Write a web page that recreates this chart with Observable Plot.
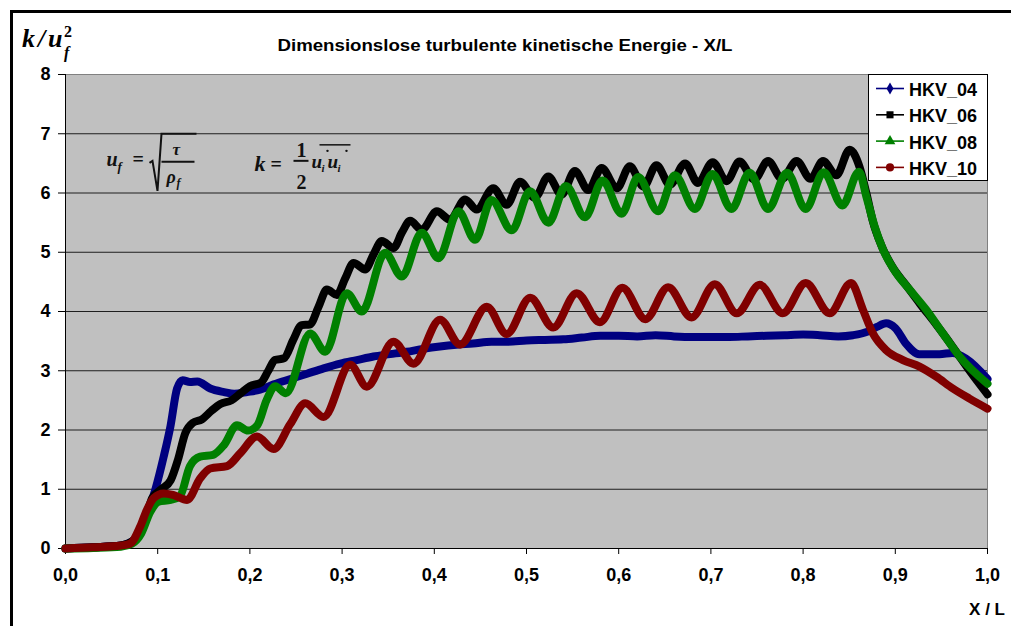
<!DOCTYPE html>
<html>
<head>
<meta charset="utf-8">
<script src="https://cdn.jsdelivr.net/npm/d3@7"></script>
<script src="https://cdn.jsdelivr.net/npm/@observablehq/plot@0.6"></script>
<style>
  html, body { margin: 0; padding: 0; background: #fff; overflow: hidden; }
  #wrap { position: relative; width: 1011px; height: 626px; overflow: hidden; background: #fff; }
  #frame { position: absolute; left: 10px; top: 10px; width: 1100px; height: 700px;
           border-left: 3px solid #000; border-top: 3px solid #000; box-sizing: border-box; }
  #wrap svg { position: absolute; left: 0; top: 0; }
</style>
</head>
<body>
<div id="wrap"><div id="frame"></div></div>
<script>
// Series, colours and legend symbols
const seriesNames = ["HKV_04", "HKV_06", "HKV_08", "HKV_10"];
const seriesColors = ["#000080", "#000000", "#008000", "#800000"];
const seriesSymbols = ["diamond", "square", "triangle", "circle"];

// Axis ticks
const xTicks = [0, 0.1, 0.2, 0.3, 0.4, 0.5, 0.6, 0.7, 0.8, 0.9, 1.0];
const yTicks = [0, 1, 2, 3, 4, 5, 6, 7, 8];

// HKV_04
const hkv04X = [0.000, 0.030, 0.060, 0.075, 0.085, 0.0975, 0.1065, 0.1138, 0.121, 0.127, 0.135, 0.143,
  0.157, 0.172, 0.183, 0.197, 0.211, 0.226, 0.244, 0.262, 0.280, 0.298, 0.316, 0.334, 0.352, 0.370,
  0.388, 0.406, 0.424, 0.442, 0.462, 0.480, 0.500, 0.520, 0.540, 0.560, 0.580, 0.600, 0.620, 0.640,
  0.660, 0.680, 0.700, 0.720, 0.740, 0.760, 0.780, 0.800, 0.818, 0.838, 0.854, 0.870, 0.880, 0.890,
  0.900, 0.912, 0.926, 0.948, 0.962, 0.977, 1.000];
const hkv04Y = [0.00, 0.02, 0.05, 0.15, 0.45, 1.00, 1.55, 2.06, 2.70, 2.84, 2.81, 2.82,
  2.70, 2.64, 2.61, 2.64, 2.68, 2.77, 2.86, 2.95, 3.04, 3.12, 3.18, 3.24, 3.28, 3.32,
  3.37, 3.41, 3.44, 3.46, 3.49, 3.49, 3.51, 3.52, 3.53, 3.56, 3.59, 3.59, 3.58, 3.60,
  3.58, 3.57, 3.57, 3.57, 3.58, 3.59, 3.60, 3.61, 3.60, 3.58, 3.60, 3.66, 3.74, 3.80,
  3.72, 3.45, 3.28, 3.28, 3.30, 3.20, 2.86];

// HKV_06
const hkv06X = [0.000, 0.030, 0.060, 0.075, 0.085, 0.094, 0.104, 0.114, 0.122, 0.130, 0.138, 0.148,
  0.158, 0.168, 0.180, 0.190, 0.200, 0.212, 0.220, 0.227, 0.237, 0.247, 0.256, 0.265, 0.2745, 0.2835,
  0.2943, 0.3034, 0.3124, 0.325, 0.334, 0.3431, 0.3557, 0.3648, 0.3738, 0.3864, 0.4027, 0.4171, 0.4334,
  0.446, 0.464, 0.4785, 0.493, 0.509, 0.5237, 0.538, 0.5525, 0.567, 0.5815, 0.598, 0.612, 0.627, 0.641,
  0.6555, 0.672, 0.686, 0.702, 0.717, 0.731, 0.747, 0.762, 0.777, 0.793, 0.808, 0.8216, 0.836, 0.8505,
  0.861, 0.8686, 0.8757, 0.8848, 0.8974, 0.9119, 0.9263, 0.9444, 0.9624, 0.9805, 1.000];
const hkv06Y = [0.00, 0.02, 0.05, 0.15, 0.42, 0.85, 1.00, 1.15, 1.50, 1.95, 2.12, 2.18,
  2.32, 2.44, 2.50, 2.62, 2.74, 2.80, 3.00, 3.18, 3.21, 3.52, 3.77, 3.78, 4.08, 4.37,
  4.28, 4.56, 4.82, 4.71, 4.96, 5.19, 5.07, 5.33, 5.53, 5.38, 5.69, 5.55, 5.89,
  5.72, 6.08, 5.80, 6.19, 5.92, 6.28, 5.97, 6.37, 6.05, 6.42, 6.08, 6.45, 6.11, 6.47,
  6.14, 6.50, 6.17, 6.52, 6.20, 6.53, 6.23, 6.54, 6.24, 6.54, 6.24, 6.54, 6.30, 6.73,
  6.45, 6.00, 5.52, 5.12, 4.74, 4.44, 4.14, 3.78, 3.40, 3.00, 2.60];

// HKV_08
const hkv08X = [0.000, 0.030, 0.060, 0.072, 0.082, 0.092, 0.101, 0.114, 0.124, 0.135, 0.146, 0.160,
  0.172, 0.186, 0.198, 0.208, 0.218, 0.2275, 0.239, 0.2654, 0.2817, 0.3051, 0.3214, 0.3467, 0.3648,
  0.3864, 0.4045, 0.4262, 0.4442, 0.462, 0.484, 0.5038, 0.5237, 0.5428, 0.5634, 0.5825, 0.6031, 0.6212,
  0.6428, 0.6609, 0.6826, 0.7017, 0.7223, 0.742, 0.762, 0.7826, 0.8028, 0.8223, 0.8426, 0.8606,
  0.8686, 0.8775, 0.8866, 0.901, 0.9155, 0.9335, 0.9516, 0.9697, 1.000];
const hkv08Y = [0.00, 0.01, 0.03, 0.08, 0.25, 0.62, 0.79, 0.82, 0.88, 1.39, 1.55, 1.58,
  1.75, 2.08, 1.99, 2.08, 2.50, 2.74, 2.62, 3.63, 3.32, 4.31, 4.00, 4.99, 4.59,
  5.33, 4.90, 5.69, 5.21, 5.88, 5.37, 6.03, 5.50, 6.12, 5.59, 6.21, 5.65, 6.27,
  5.69, 6.30, 5.73, 6.32, 5.73, 6.34, 5.73, 6.34, 5.73, 6.35, 5.79, 6.36,
  5.94, 5.44, 5.05, 4.65, 4.37, 4.03, 3.63, 3.24, 2.78];

// HKV_10
const hkv10X = [0.000, 0.030, 0.060, 0.070, 0.0813, 0.0885, 0.0957, 0.1065, 0.1174, 0.1318, 0.1463,
  0.157, 0.1752, 0.1896, 0.2077, 0.2257, 0.2438, 0.2600, 0.2799, 0.3088, 0.3268, 0.3557, 0.3774,
  0.4063, 0.428, 0.4569, 0.4785, 0.504, 0.529, 0.5544, 0.5796, 0.604, 0.629, 0.6536, 0.679, 0.7042,
  0.728, 0.753, 0.778, 0.8028, 0.8288, 0.852, 0.8649, 0.8757, 0.890, 0.9083, 0.9263, 0.9444, 0.9624,
  0.9805, 1.000];
const hkv10Y = [0.00, 0.02, 0.05, 0.08, 0.38, 0.66, 0.85, 0.93, 0.90, 0.82, 1.19,
  1.35, 1.39, 1.61, 1.89, 1.68, 2.10, 2.45, 2.22, 3.10, 2.73, 3.49, 3.12,
  3.86, 3.44, 4.08, 3.62, 4.23, 3.73, 4.31, 3.82, 4.40, 3.87, 4.41, 3.90, 4.46,
  3.97, 4.45, 3.97, 4.48, 3.97, 4.48, 4.03, 3.63, 3.35, 3.18, 3.07, 2.90, 2.70,
  2.53, 2.36];

const seriesX = [hkv04X, hkv06X, hkv08X, hkv10X];
const seriesY = [hkv04Y, hkv06Y, hkv08Y, hkv10Y];

// Long table for the line mark (drawn in legend order, last on top)
const rows = [];
seriesNames.forEach((name, i) => {
  seriesX[i].forEach((x, j) => rows.push({series: name, x, y: seriesY[i][j]}));
});

const fontSans = "Arial, 'Liberation Sans', Helvetica, sans-serif";
const fontSerif = "'Liberation Serif', 'Times New Roman', 'DejaVu Serif', serif";

const chart = Plot.plot({
  width: 1011,
  height: 626,
  marginLeft: 65,
  marginRight: 24,
  marginTop: 74,
  marginBottom: 78,
  style: {fontFamily: fontSans, fontSize: "18px", fontWeight: "bold", color: "#000", background: "transparent", overflow: "visible"},
  x: {domain: [0, 1], label: null},
  y: {domain: [0, 8], label: null},
  color: {domain: seriesNames, range: seriesColors},
  marks: [
    Plot.frame({fill: "#c0c0c0", stroke: null}),
    Plot.gridY(yTicks, {stroke: "#1e1e1e", strokeOpacity: 1, strokeWidth: 1}),
    Plot.ruleY([8], {stroke: "#808080"}),
    Plot.ruleX([1], {stroke: "#808080"}),
    Plot.ruleY([0], {stroke: "#000"}),
    Plot.ruleX([0], {stroke: "#000"}),
    Plot.axisX({ticks: xTicks, tickFormat: d => d.toFixed(1).replace(".", ","), tickSize: 6, tickPadding: 14, label: null, fontSize: 18, fontWeight: "bold"}),
    Plot.axisY({ticks: yTicks, tickFormat: d => String(d), tickSize: 7, tickPadding: 8, label: null, fontSize: 18, fontWeight: "bold"}),
    Plot.line(rows, {x: "x", y: "y", z: "series", stroke: "series", strokeWidth: 8, curve: "monotone-x", strokeLinecap: "round", strokeLinejoin: "round"})
  ]
});

document.getElementById("wrap").appendChild(chart);

const svg = d3.select(chart);
const sx = chart.scale("x").apply;
const sy = chart.scale("y").apply;

// Title
svg.append("text")
  .attr("x", 505).attr("y", 51)
  .attr("text-anchor", "middle")
  .attr("textLength", 455).attr("lengthAdjust", "spacingAndGlyphs")
  .style("font-family", fontSans).style("font-size", "16px").style("font-weight", "bold")
  .text("Dimensionslose turbulente kinetische Energie - X/L");

// Y axis label: k / u_f^2
const yl = svg.append("g").attr("text-anchor", "start")
  .style("font-family", fontSerif).style("font-weight", "bold").style("font-style", "italic");
yl.append("text").attr("x", 22).attr("y", 47).style("font-size", "26px").text("k");
yl.append("text").attr("x", 38).attr("y", 47).style("font-size", "26px").text("/");
yl.append("text").attr("x", 48).attr("y", 47).style("font-size", "26px").text("u");
yl.append("text").attr("x", 64).attr("y", 37).style("font-size", "16px").style("font-style", "normal").text("2");
yl.append("text").attr("x", 64).attr("y", 58).style("font-size", "16px").text("f");

// X axis label
svg.append("text")
  .attr("x", 1005).attr("y", 615)
  .attr("text-anchor", "end")
  .style("font-family", fontSans).style("font-size", "17px").style("font-weight", "bold")
  .text("X / L");

// Formula annotations inside the plot area
const fx = sx(0.045), fy = sy(6.45);
const f = svg.append("g").attr("transform", `translate(${fx},${fy})`).attr("text-anchor", "start")
  .style("font-family", fontSerif).style("font-weight", "bold").style("font-style", "italic").attr("fill", "#111");
f.append("text").attr("x", 0).attr("y", 0).style("font-size", "20px").text("u");
f.append("text").attr("x", 11).attr("y", 5).style("font-size", "13px").text("f");
f.append("text").attr("x", 26).attr("y", 0).style("font-size", "20px").style("font-style", "normal").text("=");
f.append("path").attr("d", "M43,-3 L46,-5 L51,25 L55,-32 L90,-32").attr("fill", "none").attr("stroke", "#111").attr("stroke-width", 2);
f.append("text").attr("x", 66).attr("y", -11).style("font-size", "17px").text("τ");
f.append("line").attr("x1", 55).attr("x2", 88).attr("y1", -4).attr("y2", -4).attr("stroke", "#111").attr("stroke-width", 2);
f.append("text").attr("x", 60).attr("y", 17).style("font-size", "18px").text("ρ");
f.append("text").attr("x", 70).attr("y", 21).style("font-size", "12px").text("f");

f.append("text").attr("x", 148).attr("y", 5).style("font-size", "22px").text("k");
f.append("text").attr("x", 164).attr("y", 5).style("font-size", "20px").style("font-style", "normal").text("=");
f.append("text").attr("x", 190).attr("y", -9).style("font-size", "20px").style("font-style", "normal").text("1");
f.append("line").attr("x1", 187).attr("x2", 202).attr("y1", -5).attr("y2", -5).attr("stroke", "#111").attr("stroke-width", 2);
f.append("text").attr("x", 190).attr("y", 23).style("font-size", "20px").style("font-style", "normal").text("2");
f.append("text").attr("x", 205).attr("y", 2).style("font-size", "19px").text("u");
f.append("text").attr("x", 215).attr("y", 6).style("font-size", "11px").text("i");
f.append("text").attr("x", 221).attr("y", 2).style("font-size", "19px").text("u");
f.append("text").attr("x", 231).attr("y", 6).style("font-size", "11px").text("i");
f.append("line").attr("x1", 213).attr("x2", 244).attr("y1", -21).attr("y2", -21).attr("stroke", "#111").attr("stroke-width", 1.5);
f.append("circle").attr("cx", 221).attr("cy", -15).attr("r", 1.2).attr("fill", "#111");
f.append("circle").attr("cx", 240).attr("cy", -15).attr("r", 1.2).attr("fill", "#111");

// Legend box
const lg = svg.append("g").attr("text-anchor", "start");
lg.append("rect").attr("x", 868.5).attr("y", 74.5).attr("width", 119).attr("height", 106)
  .attr("fill", "#fff").attr("stroke", "#000").attr("stroke-width", 1);
seriesNames.forEach((name, i) => {
  const base = 96 + i * 26.3;
  const cy = base - 7.5;
  lg.append("line").attr("x1", 876).attr("x2", 904).attr("y1", cy).attr("y2", cy)
    .attr("stroke", seriesColors[i]).attr("stroke-width", 1.6);
  const sym = {diamond: d3.symbolDiamond, square: d3.symbolSquare, triangle: d3.symbolTriangle, circle: d3.symbolCircle}[seriesSymbols[i]];
  const size = {diamond: 42, square: 50, triangle: 50, circle: 52}[seriesSymbols[i]];
  lg.append("path").attr("d", d3.symbol(sym, size)()).attr("transform", `translate(890,${cy})`)
    .attr("fill", seriesColors[i]);
  lg.append("text").attr("x", 909).attr("y", base)
    .style("font-family", fontSans).style("font-size", "18px").style("font-weight", "bold")
    .text(name);
});
</script>
</body>
</html>
